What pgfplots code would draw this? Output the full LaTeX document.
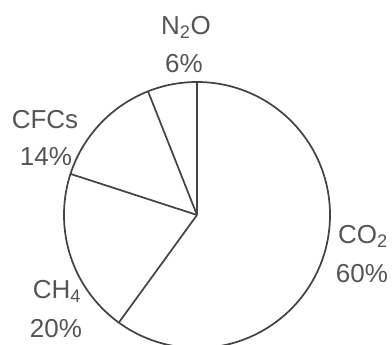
\documentclass[border=0pt]{standalone}
\usepackage{pgfplots}
\usepackage{pgfplotstable}
\pgfplotsset{compat=1.18}
\usepackage{fontspec}
\setmainfont{Liberation Sans}

\definecolor{pieline}{HTML}{444444}
\definecolor{pietext}{HTML}{555555}

% shares of each gas (percent) and where each slice starts, clockwise from the top
\pgfplotstableread{
gas  share start
CO2  60    0
CH4  20    60
CFCs 14    80
N2O  6     94
}\gases

\newcommand{\pielabel}[1]{\fontsize{19.5}{23}\selectfont\color{pietext}#1}

\begin{document}
\begin{tikzpicture}
\begin{axis}[
  hide axis,
  x=0.75pt, y=0.75pt,
  xmin=-197, xmax=195,
  ymin=-129, ymax=215,
  scale only axis,
  clip=true,
]
% outline of the pie
\draw[pieline, line width=1.3pt] (axis cs:0,0) circle[radius=133];
% slice boundaries from the centre
\addplot[pieline, line width=1.3pt, no markers,
  quiver={u={133*cos(90-3.6*\thisrow{start})},
          v={133*sin(90-3.6*\thisrow{start})}}]
  table[x expr=0, y expr=0] {\gases};

\node[anchor=base] at (axis cs:-11,181) {\pielabel{N\textsubscript{2}O}};
\node[anchor=base] at (axis cs:-13,143) {\pielabel{6\%}};
\node[anchor=base] at (axis cs:-152,87) {\pielabel{CFCs}};
\node[anchor=base] at (axis cs:-151,50) {\pielabel{14\%}};
\node[anchor=base] at (axis cs:-140,-83) {\pielabel{CH\textsubscript{4}}};
\node[anchor=base] at (axis cs:-141,-122) {\pielabel{20\%}};
\node[anchor=base] at (axis cs:166,-28) {\pielabel{CO\textsubscript{2}}};
\node[anchor=base] at (axis cs:165,-67) {\pielabel{60\%}};
\end{axis}
\pgfresetboundingbox
\path[use as bounding box] (current axis.south west) rectangle (current axis.north east);
\end{tikzpicture}
\end{document}
